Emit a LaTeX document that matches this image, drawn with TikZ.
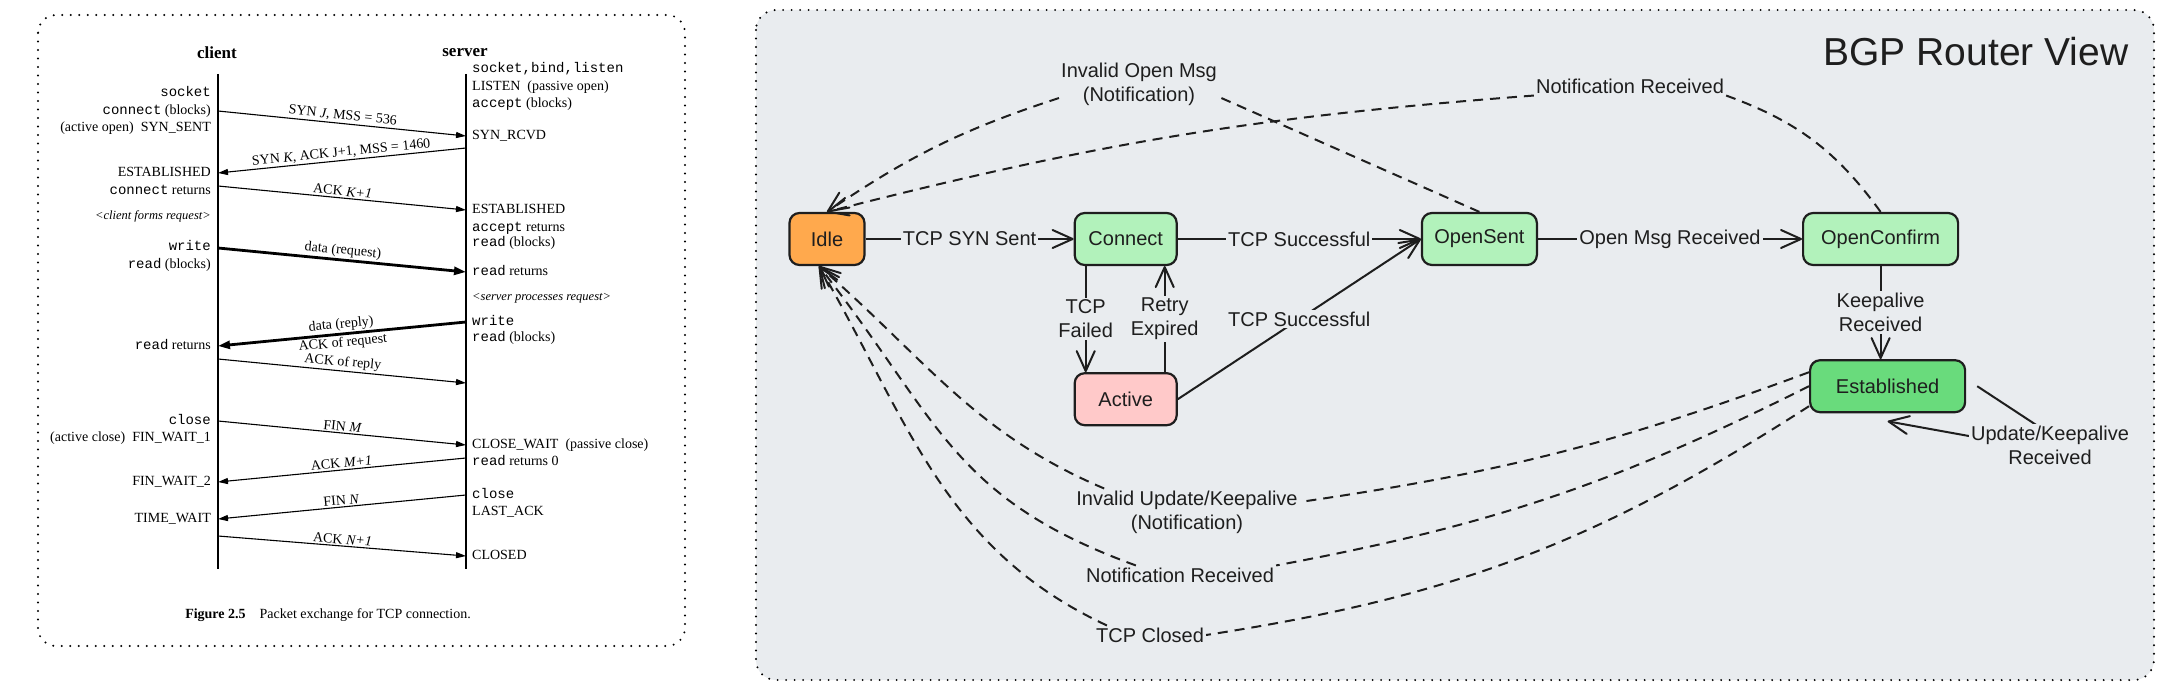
\documentclass[tikz,border=0pt]{standalone}
\usepackage{fontspec}
\setmainfont{Liberation Serif}
\setmonofont{Liberation Mono}
\newfontfamily\sketchfont{Liberation Sans}
\usepackage{tikz}
\usetikzlibrary{positioning,arrows.meta}

\definecolor{ink}{HTML}{1E1E1E}
\definecolor{panelbg}{HTML}{E9ECEF}
\definecolor{idlefill}{HTML}{FFA94D}
\definecolor{softgreen}{HTML}{B2F2BB}
\definecolor{deepgreen}{HTML}{69DB7C}
\definecolor{softred}{HTML}{FFC9C9}

\begin{document}
\begin{tikzpicture}[x=1pt,y=1pt,
  panel/.style={line width=2.2pt,dash pattern=on 0pt off 8.5pt,line cap=round},
  cl/.style={anchor=east,inner sep=0pt,text height=9.5pt,text depth=3pt,font=\fontsize{14}{16}\selectfont},
  sv/.style={cl,anchor=west},
  msg/.style={draw,line width=1.1pt,-{Triangle[length=10pt,width=6pt]}},
  fat/.style={msg,line width=2.8pt,-{Triangle[length=12pt,width=8pt]}},
  mlbl/.style={sloped,above,inner sep=1.5pt,font=\fontsize{14}{16}\selectfont},
  bgp/.style={draw=ink,line width=2.2pt,rounded corners=10pt,minimum height=52pt,text=ink,font=\sketchfont\fontsize{20}{24}\selectfont},
  lbl/.style={fill=panelbg,inner sep=2pt,align=center,text=ink,font=\sketchfont\fontsize{20}{24}\selectfont},
  arr/.style={draw=ink,line width=2pt,-{Straight Barb[length=20pt,width=18pt,round]}},
  dsh/.style={dash pattern=on 10pt off 7pt},
  dline/.style={draw=ink,line width=2pt,dsh}]

\useasboundingbox (0,0) rectangle (2164,-690);
\fill[white] (0,0) rectangle (2164,-690);

% left panel: tcp packet exchange
\draw[panel,fill=white,rounded corners=18pt] (38,-15) rectangle (685,-646);

\node[font=\bfseries\fontsize{17}{20}\selectfont] (client) at (217,-53) {client};
\node[font=\bfseries\fontsize{17}{20}\selectfont] (server) at (465,-53) {server};
\coordinate (cltop) at (218,-74);
\coordinate (clbot) at (218,-569);
\coordinate (svtop) at (466,-74);
\coordinate (svbot) at (466,-569);
\draw[line width=1.2pt] (cltop) -- (clbot);
\draw[line width=1.2pt] (svtop) -- (svbot);

\node[cl] (csock) at (211,-93) {\texttt{socket}};
\node[cl] (cconn) at (211,-111) {\texttt{connect} (blocks)};
\node[cl] (copen) at (211,-128) {(active open)\enspace SYN\_SENT};
\node[cl] (cest) at (211,-173) {ESTABLISHED};
\node[cl] (cret) at (211,-191) {\texttt{connect} returns};
\node[cl,font=\fontsize{12.5}{15}\selectfont] (cform) at (211,-216) {\textit{<client forms request>}};
\node[cl] (cwrite) at (211,-247) {\texttt{write}};
\node[cl] (cread) at (211,-265) {\texttt{read} (blocks)};
\node[cl] (crret) at (211,-346) {\texttt{read} returns};
\node[cl] (cclose) at (211,-421) {\texttt{close}};
\node[cl] (cfw1) at (211,-438) {(active close)\enspace FIN\_WAIT\_1};
\node[cl] (cfw2) at (211,-482) {FIN\_WAIT\_2};
\node[cl] (ctw) at (211,-519) {TIME\_WAIT};

\node[sv] (ssock) at (472,-69) {\texttt{socket,bind,listen}};
\node[sv] (slisten) at (472,-87) {LISTEN\enspace(passive open)};
\node[sv] (saccept) at (472,-104) {\texttt{accept} (blocks)};
\node[sv] (ssynr) at (472,-136) {SYN\_RCVD};
\node[sv] (sest) at (472,-210) {ESTABLISHED};
\node[sv] (saret) at (472,-228) {\texttt{accept} returns};
\node[sv] (sread) at (472,-243) {\texttt{read} (blocks)};
\node[sv] (srret) at (472,-272) {\texttt{read} returns};
\node[sv,font=\fontsize{12.5}{15}\selectfont] (sproc) at (472,-297) {\textit{<server processes request>}};
\node[sv] (swrite) at (472,-322) {\texttt{write}};
\node[sv] (sread2) at (472,-338) {\texttt{read} (blocks)};
\node[sv] (scw) at (472,-445) {CLOSE\_WAIT\enspace(passive close)};
\node[sv] (sret0) at (472,-462) {\texttt{read} returns 0};
\node[sv] (sclose) at (472,-495) {\texttt{close}};
\node[sv] (slast) at (472,-512) {LAST\_ACK};
\node[sv] (sclosed) at (472,-556) {CLOSED};

\coordinate (m1a) at (218,-111);  \coordinate (m1b) at (466,-136);
\coordinate (m2a) at (466,-148);  \coordinate (m2b) at (218,-173);
\coordinate (m3a) at (218,-186);  \coordinate (m3b) at (466,-210);
\coordinate (m4a) at (218,-248);  \coordinate (m4b) at (466,-272);
\coordinate (m5a) at (466,-322);  \coordinate (m5b) at (218,-346);
\coordinate (m6a) at (218,-359);  \coordinate (m6b) at (466,-383);
\coordinate (m7a) at (218,-421);  \coordinate (m7b) at (466,-445);
\coordinate (m8a) at (466,-458);  \coordinate (m8b) at (218,-482);
\coordinate (m9a) at (466,-495);  \coordinate (m9b) at (218,-519);
\coordinate (m10a) at (218,-536); \coordinate (m10b) at (466,-556);

\draw[msg] (m1a) -- node[mlbl]{SYN \textit{J}, MSS = 536} (m1b);
\draw[msg] (m2a) -- node[mlbl]{SYN \textit{K}, ACK J+1, MSS = 1460} (m2b);
\draw[msg] (m3a) -- node[mlbl]{ACK \textit{K+1}} (m3b);
\draw[fat] (m4a) -- node[mlbl]{data (request)} (m4b);
\draw[fat] (m5a) -- node[mlbl]{data (reply)} node[mlbl,below]{ACK of request} (m5b);
\draw[msg] (m6a) -- node[mlbl]{ACK of reply} (m6b);
\draw[msg] (m7a) -- node[mlbl]{FIN \textit{M}} (m7b);
\draw[msg] (m8a) -- node[mlbl]{ACK \textit{M+1}} (m8b);
\draw[msg] (m9a) -- node[mlbl]{FIN \textit{N}} (m9b);
\draw[msg] (m10a) -- node[mlbl]{ACK \textit{N+1}} (m10b);

\node[font=\fontsize{14}{16}\selectfont] (caption) at (328,-615) {\textbf{Figure 2.5}\quad Packet exchange for TCP connection.};

% right panel: bgp states
\draw[panel,fill=panelbg,rounded corners=20pt] (756,-10) rectangle (2154,-680);
\node[anchor=east,text=ink,font=\sketchfont\fontsize{39}{44}\selectfont] (title) at (2132,-52) {BGP Router View};

\node[bgp,fill=idlefill,minimum width=75pt] (idle) at (827,-239) {Idle};
\node[bgp,fill=softgreen,minimum width=102pt,right = 208pt of idle] (conn) {Connect};
\node[bgp,fill=softgreen,minimum width=115pt,right = 243pt of conn] (osent) {OpenSent};
\node[bgp,fill=softgreen,minimum width=155pt,right = 264pt of osent] (oconf) {OpenConfirm};
\node[bgp,fill=softred,minimum width=102pt,below = 106pt of conn] (act) {Active};
\node[bgp,fill=deepgreen,minimum width=155pt,below = 93pt of oconf,xshift=7pt] (est) {Established};

\path (idle) edge[arr] node[lbl]{TCP SYN Sent} (conn);
\path (conn) edge[arr] node[lbl]{TCP Successful} (osent);
\path (osent) edge[arr] node[lbl]{Open Msg Received} (oconf);
\path (act.east) edge[arr] node[lbl]{TCP Successful} (osent.west);
\path ([xshift=-40pt]conn.south) edge[arr] node[lbl]{TCP\\Failed} ([xshift=-40pt]act.north);
\path ([xshift=39pt]act.north) edge[arr] node[lbl]{Retry\\Expired} ([xshift=39pt]conn.south);
\path (oconf.south) edge[arr] node[lbl]{Keepalive\\Received} (oconf.south |- est.north);

\coordinate (updturn) at (2085,-457);
\draw[arr] ([xshift=11pt]est.east) -- (updturn) -- ([yshift=-8pt]est.south);
\node[lbl] (upd) at (2050,-445) {Update/Keepalive\\Received};

% back to idle
\node[lbl] (invopen) at (1139,-84) {Invalid Open Msg\\(Notification)};
\node[lbl] (notiftop) at (1630,-86) {Notification Received};
\draw[dline] (osent.north) -- ([yshift=-13pt]invopen.east);
\draw[arr,dsh] ([yshift=-14pt]invopen.west) to[bend right=8] (idle.north);
\draw[dline] (oconf.north) to[bend right=17] (notiftop.south east);
\draw[arr,dsh] (notiftop.south west) to[bend right=5] (idle.north);

\node[lbl] (invupd) at (1187,-512) {Invalid Update/Keepalive\\(Notification)};
\node[lbl] (notifbot) at (1180,-575) {Notification Received};
\node[lbl] (tcpclosed) at (1150,-635) {TCP Closed};
\draw[dline] ([yshift=14pt]est.west) to[bend left=6] ([yshift=10pt]invupd.east);
\draw[dline] (est.west) to[bend left=8] (notifbot.north east);
\draw[dline] ([yshift=-20pt]est.west) to[bend left=12] (tcpclosed.east);
\draw[arr,dsh] ([xshift=30pt]invupd.north west) to[out=157,in=-41] ([xshift=-8pt]idle.south);
\draw[arr,dsh] ([xshift=52pt]notifbot.north west) to[out=160,in=-52,looseness=1.15] ([xshift=-8pt]idle.south);
\draw[arr,dsh] ([xshift=13pt]tcpclosed.north west) to[out=155,in=-60] ([xshift=-8pt]idle.south);

\end{tikzpicture}
\end{document}
